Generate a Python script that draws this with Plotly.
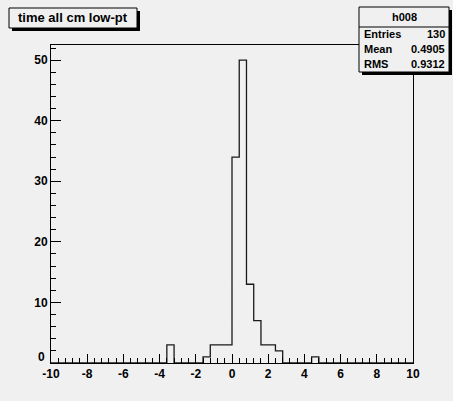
import numpy as np
import plotly.graph_objects as go

# ---- data ----
x_low, x_high, n_bins = -10.0, 10.0, 50
counts = [0, 0, 0, 0, 0, 0, 0, 0, 0, 0,      # -10 .. -6
          0, 0, 0, 0, 0, 0, 3, 0, 0, 0,      # -6 .. -2
          0, 1, 3, 3, 3, 34, 50, 13, 7, 3,   # -2 .. 2
          3, 2, 0, 0, 0, 0, 1, 0, 0, 0,      # 2 .. 6
          0, 0, 0, 0, 0, 0, 0, 0, 0, 0]      # 6 .. 10
x_tickvals = [-10, -8, -6, -4, -2, 0, 2, 4, 6, 8, 10]
x_ticktext = ["-10", "-8", "-6", "-4", "-2", "0", "2", "4", "6", "8", "10"]
y_tickvals = [0, 10, 20, 30, 40, 50]
y_ticktext = ["", "10", "20", "30", "40", "50"]
y_zero_label = "0"
title_text = "time all cm low-pt"
stats_name = "h008"
stats_labels = ["Entries", "Mean", "RMS"]
stats_values = ["130", "0.4905", "0.9312"]
y_max = 52.5

edges = np.linspace(x_low, x_high, n_bins + 1)
ys = list(counts) + [counts[-1]]

W, H = 453, 401
L, R, T, B = 51, 413, 45, 363
BG = "#f0f0f0"
FONT = "Liberation Sans, Arial, sans-serif"

def px(x):
    return (x - L) / (R - L)

def py(y):
    return (B - y) / (B - T)

fig = go.Figure()
fig.add_trace(go.Scatter(x=edges, y=ys, mode="lines", line_shape="hv",
                         line=dict(color="#1a1a1a", width=1.3),
                         hoverinfo="skip", showlegend=False))

axis_common = dict(showline=True, linecolor="black", linewidth=1, mirror=True,
                   ticks="inside", tickcolor="black", showgrid=False, zeroline=False,
                   tickfont=dict(family=FONT, size=12, color="black", weight="bold"))

fig.update_xaxes(range=[x_low, x_high], tickmode="array", tickvals=x_tickvals,
                 ticktext=x_ticktext, ticklen=9, tickwidth=1,
                 minor=dict(dtick=0.4, tick0=-10, ticklen=5, ticks="inside", tickcolor="black"),
                 **axis_common)
fig.update_yaxes(range=[0, y_max], tickmode="array", tickvals=y_tickvals,
                 ticktext=y_ticktext, ticklen=10, tickwidth=1,
                 minor=dict(dtick=2, tick0=0, ticklen=5, ticks="inside", tickcolor="black"),
                 **axis_common)

shapes = []
annots = []

def box(x0, y0, x1, y1, shadow=3, fill=BG):
    shapes.append(dict(type="rect", xref="paper", yref="paper",
                       x0=px(x0 + shadow), x1=px(x1 + shadow), y0=py(y0 + shadow), y1=py(y1 + shadow),
                       fillcolor="black", line=dict(width=0), layer="above"))
    shapes.append(dict(type="rect", xref="paper", yref="paper",
                       x0=px(x0), x1=px(x1), y0=py(y0), y1=py(y1),
                       fillcolor=fill, line=dict(color="black", width=1), layer="above"))

# y-axis "0" label, raised slightly like ROOT does to clear the "-10"
annots.append(dict(xref="paper", yref="paper", x=px(47), y=py(357), text=y_zero_label,
                   showarrow=False, xanchor="right", yanchor="middle",
                   font=dict(family=FONT, size=12, color="black", weight="bold")))

# title box
box(9, 8, 137, 28)
annots.append(dict(xref="paper", yref="paper", x=px(73), y=py(18), text=title_text,
                   showarrow=False, xanchor="center", yanchor="middle",
                   font=dict(family=FONT, size=13, color="black", weight="bold")))

# stats box
box(359, 7, 449, 72)
shapes.append(dict(type="line", xref="paper", yref="paper", x0=px(359), x1=px(449),
                   y0=py(27), y1=py(27), line=dict(color="black", width=1), layer="above"))
annots.append(dict(xref="paper", yref="paper", x=px(404), y=py(17), text=stats_name,
                   showarrow=False, xanchor="center", yanchor="middle",
                   font=dict(family=FONT, size=11, color="black", weight="bold")))
row_y = [34, 49, 64]
for lab, val, yy in zip(stats_labels, stats_values, row_y):
    annots.append(dict(xref="paper", yref="paper", x=px(362), y=py(yy), text=lab,
                       showarrow=False, xanchor="left", yanchor="middle",
                       font=dict(family=FONT, size=11, color="black", weight="bold")))
    annots.append(dict(xref="paper", yref="paper", x=px(447), y=py(yy), text=val,
                       showarrow=False, xanchor="right", yanchor="middle",
                       font=dict(family=FONT, size=11, color="black", weight="bold")))

fig.update_layout(width=W, height=H, autosize=False,
                  margin=dict(l=L, r=W - R, t=T, b=H - B, pad=0),
                  paper_bgcolor=BG, plot_bgcolor=BG,
                  shapes=shapes, annotations=annots, showlegend=False)

fig.write_html("out.html", config={"displayModeBar": False},
               post_script="document.body.style.margin='0';document.body.style.padding='0';"
                           "document.body.style.overflow='hidden';"
                           "document.documentElement.style.background='" + BG + "';")
